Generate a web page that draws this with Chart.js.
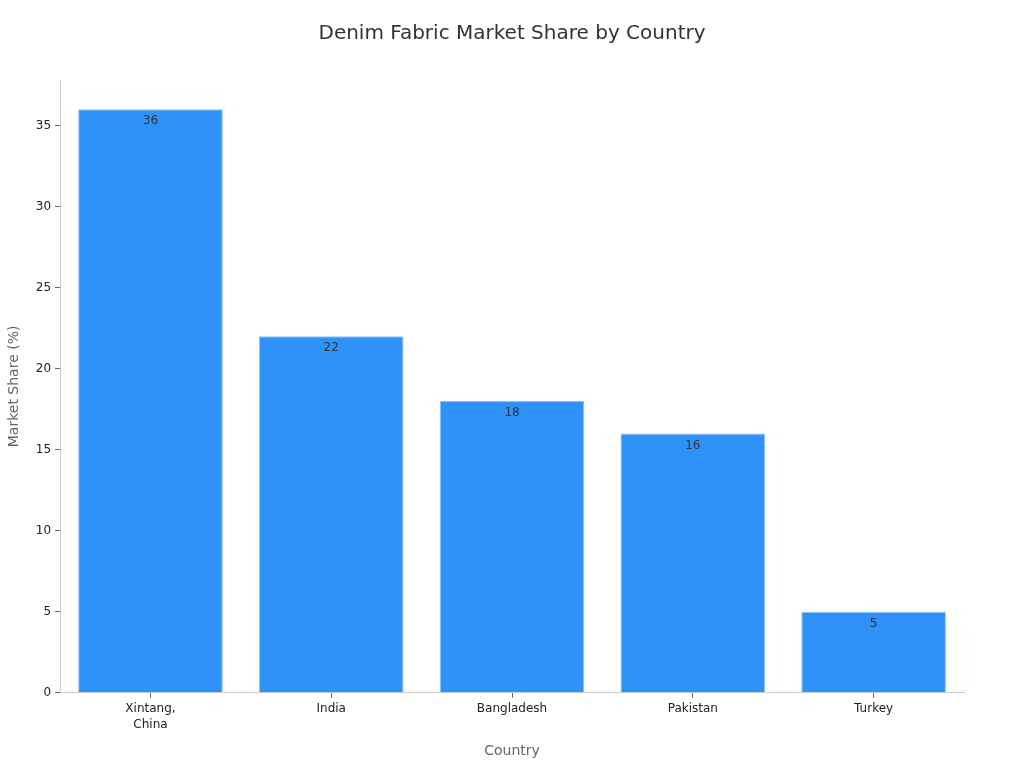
<!DOCTYPE html>
<html>
<head>
<meta charset="utf-8">
<script src="https://cdn.jsdelivr.net/npm/chart.js@4"></script>
<style>
  html, body { margin: 0; padding: 0; background: #fff; }
  #wrap { width: 1024px; height: 768px; }
</style>
</head>
<body>
<div id="wrap"><canvas id="grafico" width="1024" height="768"></canvas></div>
<script>
const chartTitle = 'Denim Fabric Market Share by Country';
const countries = [['Xintang,', 'China'], 'India', 'Bangladesh', 'Pakistan', 'Turkey'];
const shares = [36, 22, 18, 16, 5];
const yTicks = [0, 5, 10, 15, 20, 25, 30, 35];

// valor dentro do topo de cada barra + título centrado no canvas
const valueLabels = {
    id: 'valueLabels',
    afterDatasetsDraw(chart) {
        const ctx = chart.ctx;
        const meta = chart.getDatasetMeta(0);
        ctx.save();
        ctx.font = '12px "DejaVu Sans"';
        ctx.fillStyle = '#333';
        ctx.textAlign = 'center';
        ctx.textBaseline = 'top';
        meta.data.forEach((bar, i) => {
            ctx.fillText(String(shares[i]), bar.x, bar.y + 6);
        });
        ctx.font = '20px "DejaVu Sans"';
        ctx.textBaseline = 'middle';
        ctx.fillText(chartTitle, chart.width / 2, 34);
        ctx.restore();
    }
};

Chart.defaults.font.family = '"DejaVu Sans", sans-serif';

new Chart(document.getElementById('grafico'), {
    type: 'bar',
    data: {
        labels: countries,
        datasets: [{
            data: shares,
            backgroundColor: '#2f92f8',
            borderColor: '#8cc4fb',
            borderWidth: 1,
            categoryPercentage: 1,
            barPercentage: 0.8,
        }],
    },
    options: {
        responsive: false,
        animation: false,
        layout: { padding: { left: 1, right: 60, top: 80, bottom: 4 } },
        plugins: {
            legend: { display: false },
            tooltip: { enabled: false },
        },
        scales: {
            x: {
                grid: { offset: false, drawOnChartArea: false, drawTicks: true, tickLength: 5, color: '#666' },
                border: { color: '#ccc' },
                ticks: { color: '#222', font: { size: 12, lineHeight: 1.35 }, maxRotation: 0, padding: 3 },
                title: {
                    display: true,
                    text: 'Country',
                    color: '#666',
                    font: { size: 14 },
                    padding: { top: 7, bottom: 4 },
                },
            },
            y: {
                min: 0,
                max: 37.8,
                afterBuildTicks: axis => { axis.ticks = yTicks.map(v => ({ value: v })); },
                grid: { drawOnChartArea: false, drawTicks: true, tickLength: 5, color: '#666' },
                border: { color: '#ccc' },
                ticks: { color: '#222', font: { size: 12 }, padding: 4 },
                title: {
                    display: true,
                    text: 'Market Share (%)',
                    color: '#666',
                    font: { size: 14 },
                    padding: { top: 5, bottom: 9 },
                },
            },
        },
    },
    plugins: [valueLabels],
});
</script>
</body>
</html>
